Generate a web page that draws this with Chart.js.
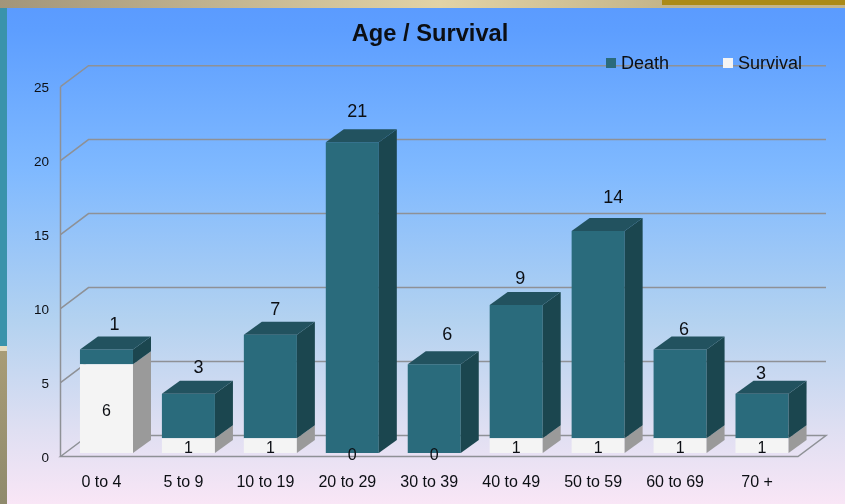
<!DOCTYPE html>
<html>
<head>
<meta charset="utf-8">
<style>
  html, body { margin: 0; padding: 0; width: 845px; height: 504px; overflow: hidden; }
  body { position: relative; background: linear-gradient(180deg, #5a9aff 0px, #5d9eff 30px, #7fb9ff 170px, #b3d2f0 320px, #dfdff2 430px, #f9e6f6 504px); }
  #topBand { position: absolute; left: 0; top: 0; width: 845px; height: 8px; background: linear-gradient(90deg, #a2957a 0, #e2d3a6 440px, #c4b58a 662px); }
  #topGold { position: absolute; left: 662px; top: 0; width: 183px; height: 5px; background: #ab8a17; }
  #leftTeal { position: absolute; left: 0; top: 8px; width: 7px; height: 338px; background: #3a93ab; }
  #leftCream { position: absolute; left: 0; top: 346px; width: 7px; height: 5px; background: #e6dcc0; }
  #leftTan { position: absolute; left: 0; top: 351px; width: 7px; height: 153px; background: linear-gradient(180deg, #a89c76, #8f8a6c); }
  canvas { position: absolute; left: 0; top: 0; }
</style>
</head>
<body>
<div id="topBand"></div>
<div id="topGold"></div>
<div id="leftTeal"></div>
<div id="leftCream"></div>
<div id="leftTan"></div>
<canvas id="chart" width="845" height="504"></canvas>
<script src="https://cdn.jsdelivr.net/npm/chart.js@4"></script>
<script>
const ageGroups = ["0 to 4", "5 to 9", "10 to 19", "20 to 29", "30 to 39", "40 to 49", "50 to 59", "60 to 69", "70 +"];
const death = [1, 3, 7, 21, 6, 9, 14, 6, 3];
const survival = [6, 1, 1, 0, 0, 1, 1, 1, 1];

// label offsets from the top back corner of each bar, as placed in the picture
const deathLabelDx = [8, 10, 5, 5, 13, 4, 15, 4, -1];
const deathLabelDy = [-24.5, -25.5, -25, -30, -29.5, -26.5, -33, -19.5, -20];

const fontFamily = '"Liberation Sans", Arial, sans-serif';
const textColor = "#0c0f14";
const gridColor = "#8e9196";

const deathColors = { front: "#2a6b7c", top: "#22525f", side: "#1b464f" };
const survivalColors = { front: "#f4f4f4", side: "#9a9a9a" };

const barDepth = { x: 18, y: -13 };
const wallFront = { x: -5, y: 3.5 };
const wallBack = { x: 23, y: -17.5 };

function polygon(c, pts, fill) {
  c.fillStyle = fill;
  c.beginPath();
  pts.forEach((p, i) => (i ? c.lineTo(p[0], p[1]) : c.moveTo(p[0], p[1])));
  c.closePath();
  c.fill();
}

const walls3d = {
  id: "walls3d",
  beforeDatasetsDraw(chart) {
    const { ctx: c, chartArea: a, scales } = chart;
    const y = scales.y;
    c.save();
    c.strokeStyle = gridColor;
    c.lineWidth = 1.5;
    y.ticks.forEach((t) => {
      const py = y.getPixelForValue(t.value);
      c.beginPath();
      c.moveTo(a.left + wallFront.x, py + wallFront.y);
      c.lineTo(a.left + wallBack.x, py + wallBack.y);
      c.lineTo(a.right + wallBack.x, py + wallBack.y);
      if (t.value === 0) {
        c.lineTo(a.right + wallFront.x, py + wallFront.y);
        c.closePath();
      }
      c.stroke();
    });
    c.beginPath();
    c.moveTo(a.left + wallFront.x, y.getPixelForValue(0) + wallFront.y);
    c.lineTo(a.left + wallFront.x, y.getPixelForValue(25) + wallFront.y);
    c.stroke();
    c.restore();
  },
  afterDatasetsDraw(chart) {
    const c = chart.ctx;
    const survivalBars = chart.getDatasetMeta(0).data;
    const deathBars = chart.getDatasetMeta(1).data;
    c.save();
    survivalBars.forEach((b, i) => {
      if (!survival[i]) return;
      const r = b.x + b.width / 2;
      polygon(c, [[r, b.y], [r + barDepth.x, b.y + barDepth.y], [r + barDepth.x, b.base + barDepth.y], [r, b.base]], survivalColors.side);
    });
    deathBars.forEach((b) => {
      const l = b.x - b.width / 2;
      const r = b.x + b.width / 2;
      polygon(c, [[r, b.y], [r + barDepth.x, b.y + barDepth.y], [r + barDepth.x, b.base + barDepth.y], [r, b.base]], deathColors.side);
      polygon(c, [[l, b.y], [r, b.y], [r + barDepth.x, b.y + barDepth.y], [l + barDepth.x, b.y + barDepth.y]], deathColors.top);
    });

    c.fillStyle = textColor;
    c.textAlign = "center";
    c.textBaseline = "middle";
    c.font = "18px " + fontFamily;
    deathBars.forEach((b, i) => {
      c.fillText(String(death[i]), b.x + deathLabelDx[i], b.y + deathLabelDy[i]);
    });
    c.font = "16px " + fontFamily;
    survivalBars.forEach((b, i) => {
      c.fillText(String(survival[i]), b.x, (b.y + b.base) / 2 + 3);
    });
    c.restore();
  },
  afterDraw(chart) {
    const c = chart.ctx;
    const entries = [
      { text: chart.data.datasets[1].label, color: deathColors.front, x: 606 },
      { text: chart.data.datasets[0].label, color: survivalColors.front, x: 723 },
    ];
    c.save();
    c.font = "18px " + fontFamily;
    c.textBaseline = "middle";
    c.textAlign = "left";
    entries.forEach((e) => {
      c.fillStyle = e.color;
      c.fillRect(e.x, 58, 10, 10);
      c.fillStyle = textColor;
      c.fillText(e.text, e.x + 15, 64);
    });
    c.restore();
  },
};

new Chart(document.getElementById("chart").getContext("2d"), {
  type: "bar",
  data: {
    labels: ageGroups,
    datasets: [
      { label: "Survival", data: survival, backgroundColor: survivalColors.front, borderWidth: 0 },
      { label: "Death", data: death, backgroundColor: deathColors.front, borderWidth: 0 },
    ],
  },
  options: {
    responsive: false,
    animation: false,
    categoryPercentage: 0.647,
    barPercentage: 1,
    layout: { padding: { left: 30, right: 15, top: 0, bottom: 0 } },
    plugins: {
      legend: { display: false },
      tooltip: { enabled: false },
      title: {
        display: true,
        text: "Age / Survival",
        color: textColor,
        font: { family: fontFamily, size: 23.7, weight: "bold" },
        padding: { top: 20.6, bottom: 34.1 },
      },
    },
    scales: {
      x: {
        stacked: true,
        grid: { display: false },
        border: { display: false },
        afterFit: (s) => { s.height = 51; },
        ticks: {
          color: textColor,
          font: { family: fontFamily, size: 16 },
          padding: 12,
          labelOffset: -5,
          maxRotation: 0,
          autoSkip: false,
        },
      },
      y: {
        stacked: true,
        min: 0,
        max: 25,
        grid: { display: false },
        border: { display: false },
        afterFit: (s) => { s.width = 35.5; },
        ticks: {
          stepSize: 5,
          color: textColor,
          font: { family: fontFamily, size: 13.5 },
          padding: 8.5,
          labelOffset: 5,
        },
      },
      // empty right axis, holds the room the back wall runs into
      yRight: {
        position: "right",
        min: 0,
        max: 25,
        grid: { display: false },
        border: { display: false },
        ticks: { display: false },
        afterFit: (s) => { s.width = 27; },
      },
    },
  },
  plugins: [walls3d],
});
</script>
</body>
</html>
